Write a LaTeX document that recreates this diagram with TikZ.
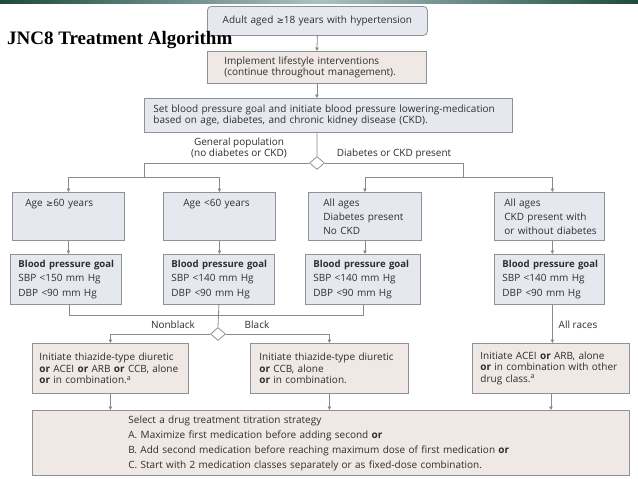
\documentclass[tikz,border=0pt]{standalone}
\usepackage{fontspec}
\setmainfont{Open Sans}
\newfontfamily\symfont{DejaVu Sans}
\newfontfamily\titlefont{Liberation Serif}
\newcommand{\geqsym}{{\symfont\fontsize{8.5}{10}\selectfont ≥}}
\newcommand{\goalhead}{\mbox{\bfseries\fontsize{9.6}{14.5}\selectfont Blood pressure goal}}
\usetikzlibrary{arrows.meta,shapes.geometric}
\definecolor{bluefill}{HTML}{E5E9EF}
\definecolor{pinkfill}{HTML}{EFE8E5}
\definecolor{edgegray}{HTML}{8E9297}
\definecolor{wire}{HTML}{8A8A8A}
\definecolor{ink}{HTML}{2E2E2E}
\definecolor{stripdark}{HTML}{1E4A3C}
\definecolor{striplight}{HTML}{A9C2C6}
\tikzset{
  geom/.code n args={3}{%
    \pgfmathsetmacro\boxtw{#1-2*#3}%
    \edef\boxtmp{\noexpand\tikzset{minimum width=#1pt, minimum height=#2pt, inner xsep=#3pt, text width=\boxtw pt}}%
    \boxtmp},
  boxbase/.style={draw=edgegray, line width=0.8pt, anchor=north west, align=left,
    inner ysep=0pt, text=ink, font=\fontsize{10}{11.5}\selectfont},
  bluebox/.style={boxbase, fill=bluefill},
  pinkbox/.style={boxbase, fill=pinkfill},
  decide/.style={diamond, draw=edgegray, fill=white, line width=0.8pt, inner sep=0pt,
    minimum width=15pt, minimum height=13pt},
  wirestyle/.style={draw=wire, line width=0.8pt},
  arr/.style={wirestyle, -{Triangle[length=3.5pt,width=3.5pt]}},
  lbl/.style={text=ink, font=\fontsize{10}{11.5}\selectfont, align=center, inner sep=0pt}
}
\begin{document}
\begin{tikzpicture}[x=1pt,y=-1pt]
\useasboundingbox (0,0) rectangle (638,479);
\fill[white] (0,0) rectangle (638,479);
\shade[left color=stripdark, right color=stripdark, middle color=striplight] (0,0) rectangle (638,3);

% top chain
\node[bluebox, rounded corners=4pt, align=center, geom={220}{29}{4}] (start) at (207,6)
  {Adult aged \geqsym18 years with hypertension};
\node[pinkbox, geom={219}{32}{17}] (life) at (207,51)
  {Implement lifestyle interventions\\(continue throughout management).};
\node[bluebox, geom={368}{34}{9}] (setgoal) at (144,98)
  {\mbox{Set blood pressure goal and initiate blood pressure lowering-medication}\\based on age, diabetes, and chronic kidney disease (CKD).};
\node[decide] (d1) at (317,163) {};

% category boxes
\node[bluebox, font=\fontsize{10}{14}\selectfont, geom={112}{48}{13}] (ca) at (12,192)
  {Age \geqsym60 years\\\mbox{}\\\mbox{}};
\node[bluebox, font=\fontsize{10}{14}\selectfont, geom={112}{48}{20}] (cb) at (163,192)
  {Age <60 years\\\mbox{}\\\mbox{}};
\node[bluebox, font=\fontsize{10}{14}\selectfont, geom={113}{48}{15}] (cc) at (308,192)
  {All ages\\Diabetes present\\No CKD};
\node[bluebox, font=\fontsize{10}{14}\selectfont, geom={110}{48}{10}] (cd) at (494,192)
  {All ages\\\mbox{CKD present with}\\\mbox{or without diabetes}};

% goal boxes
\node[bluebox, font=\fontsize{10}{14.5}\selectfont, geom={111}{50}{8}] (ga) at (10,254)
  {\goalhead\\SBP <150 mm Hg\\DBP <90 mm Hg};
\node[bluebox, font=\fontsize{10}{14.5}\selectfont, geom={111}{50}{8}] (gb) at (163,254)
  {\goalhead\\SBP <140 mm Hg\\DBP <90 mm Hg};
\node[bluebox, font=\fontsize{10}{14.5}\selectfont, geom={115}{50}{8}] (gc) at (305,254)
  {\goalhead\\SBP <140 mm Hg\\DBP <90 mm Hg};
\node[bluebox, font=\fontsize{10}{14.5}\selectfont, geom={110}{50}{8}] (gd) at (494,254)
  {\goalhead\\SBP <140 mm Hg\\DBP <90 mm Hg};
\node[decide] (d2) at (218,334) {};

% drug boxes
\node[pinkbox, geom={156}{50}{7}] (ea) at (32,343)
  {\mbox{Initiate thiazide-type diuretic}\\\mbox{\textbf{or} ACEI \textbf{or} ARB \textbf{or} CCB, alone}\\\textbf{or} in combination.\textsuperscript{a}};
\node[pinkbox, geom={158}{50}{9}] (eb) at (250,343)
  {\mbox{Initiate thiazide-type diuretic}\\\textbf{or} CCB, alone\\\textbf{or} in combination.};
\node[pinkbox, geom={157}{50}{8}] (ec) at (472,343)
  {\mbox{Initiate ACEI \textbf{or} ARB, alone}\\\mbox{\textbf{or} in combination with other}\\drug class.\textsuperscript{a}};

% final box
\node[pinkbox, font=\fontsize{10}{15}\selectfont, geom={597}{65}{96}] (fin) at (32,410)
  {Select a drug treatment titration strategy\\
   A. Maximize first medication before adding second \textbf{or}\\
   \mbox{B. Add second medication before reaching maximum dose of first medication \textbf{or}}\\
   C. Start with 2 medication classes separately or as fixed-dose combination.};

% junction coordinates
\coordinate (j1) at (144,177);
\coordinate (j2) at (463,177);
\coordinate (j3) at (218,315);

% connectors
\draw[arr] (start.south) -- (life.north);
\draw[arr] (life.south) -- (life.south |- setgoal.north);
\draw[wirestyle] (life.south |- setgoal.south) -- (d1.north);
\draw[wirestyle] (d1.west) -| (j1);
\draw[arr] (j1) -| (ca.north);
\draw[arr] (j1) -| (cb.north);
\draw[wirestyle] (d1.east) -| (j2);
\draw[arr] (j2) -| (cc.north);
\draw[arr] (j2) -| ([xshift=3pt]cd.north);
\draw[arr] (ca.south) -- (ca.south |- ga.north);
\draw[arr] (cb.south) -- (cb.south |- gb.north);
\draw[arr] (cc.south) -- (cc.south |- gc.north);
\draw[arr] ([xshift=3pt]cd.south) -- ([xshift=3pt]cd.south |- gd.north);
\draw[wirestyle] ([xshift=3pt]ga.south) |- (j3);
\draw[wirestyle] (gc.south) |- (j3);
\draw[wirestyle] (gb.south) -- (d2.north);
\draw[arr] (d2.west) -| (ea.north);
\draw[arr] (d2.east) -| (eb.north);
\draw[arr] ([xshift=3pt]gd.south) -- ([xshift=3pt]gd.south |- ec.north);
\draw[arr] (ea.south) -- (ea.south |- fin.north);
\draw[arr] (eb.south) -- (eb.south |- fin.north);
\draw[arr] (ec.south) -- (ec.south |- fin.north);

% labels
\node[lbl] (lgen) at (239,148) {General population\\(no diabetes or CKD)};
\node[lbl] (ldia) at (394,154) {Diabetes or CKD present};
\node[lbl] (lnon) at (173,325) {Nonblack};
\node[lbl] (lblk) at (257,325) {Black};
\node[lbl] (lall) at (578,325) {All races};

% title
\node[anchor=base west, inner sep=0pt, text=black, font=\titlefont\bfseries\fontsize{19}{21}\selectfont] (title) at (7,45) {JNC8 Treatment Algorithm};
\end{tikzpicture}
\end{document}
